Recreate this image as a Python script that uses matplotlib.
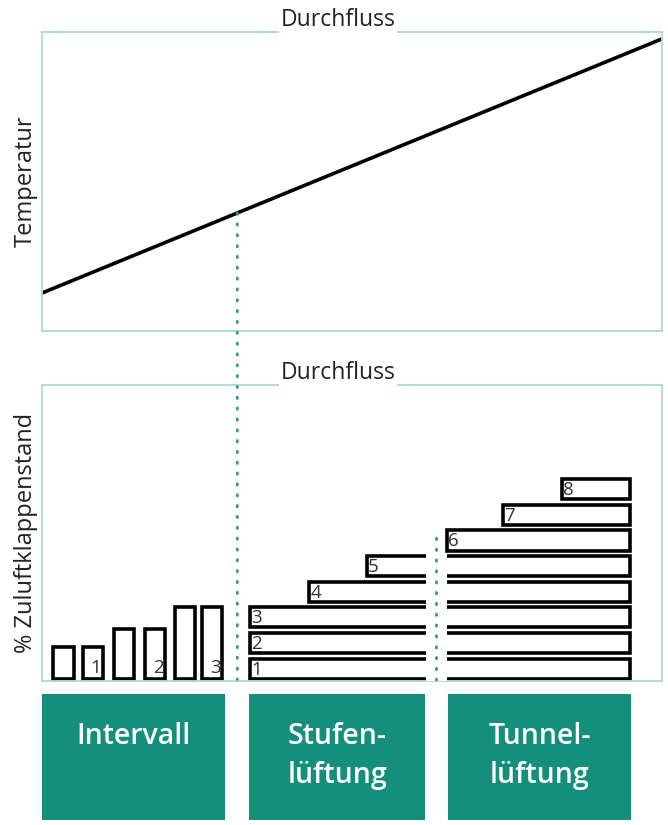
import numpy as np
import matplotlib
matplotlib.use("Agg")
import matplotlib.pyplot as plt
from matplotlib.patches import Rectangle, ConnectionPatch

plt.rcParams['font.family'] = ['Open Sans', 'DejaVu Sans']

# Daten
# Temperaturkennlinie (oben)
durchfluss_linie = [0, 100]
temperatur_linie = [12.7, 97.7]

# Intervallbetrieb: Balken (links, Breite, Höhe)
intervall_links = [1.8, 6.6, 11.6, 16.6, 21.5, 25.8]
intervall_breite = [3.3, 3.3, 3.3, 3.3, 3.2, 3.3]
intervall_hoehe = [10.8, 10.8, 16.9, 16.9, 24.3, 24.3]
intervall_labels = ['', '1', '', '2', '', '3']

# Stufen- und Tunnellüftung: Stufe, Start, Ende
stufen = ['1', '2', '3', '4', '5', '6', '7', '8']
stufen_start = [33.5, 33.5, 33.5, 43.1, 52.4, 65.3, 74.4, 83.9]
stufen_ende = [94.8, 94.8, 94.8, 94.8, 94.8, 94.8, 94.8, 94.8]
stufen_abstand = 8.7
stufen_hoehe = 6.8

# Grenzen zwischen den Betriebsarten
grenze_intervall = 31.5
grenze_tunnel = 63.6
luecke = (61.9, 65.3)

# Betriebsarten (unten)
modi = ['Intervall', 'Stufen-\nlüftung', 'Tunnel-\nlüftung']
modi_links = [0.0, 33.4, 65.5]
modi_breite = [29.5, 28.4, 29.5]

rahmen = '#a9dccf'
gruen = '#148f7b'
punkte = '#2f9c8a'

W, H = 668, 825
fig = plt.figure(figsize=(W / 100, H / 100), dpi=100)

def box(l, t, r, b):
    return [l / W, 1 - b / H, (r - l) / W, (b - t) / H]

ax1 = fig.add_axes(box(42, 32, 662, 331))
ax2 = fig.add_axes(box(42, 385, 662, 681))
ax3 = fig.add_axes(box(42, 694, 662, 820))

for ax in (ax1, ax2):
    ax.set_xlim(0, 100)
    ax.set_ylim(0, 100)
    ax.set_xticks([])
    ax.set_yticks([])
    for s in ax.spines.values():
        s.set_color(rahmen)
        s.set_linewidth(1.3)
    ax.text(47.7, 100, 'Durchfluss', ha='center', va='bottom', fontsize=16.5,
            color='#222222', bbox=dict(facecolor='white', edgecolor='none', pad=1))

# oben: Temperatur über Durchfluss
ax1.plot(durchfluss_linie, temperatur_linie, color='black', lw=2.6, solid_capstyle='round')
ax1.set_ylabel('Temperatur', fontsize=17, color='#222222', labelpad=3)

# unten: Klappenstand
ax2.set_ylim(-0.5, 100)
ax2.set_ylabel('% Zuluftklappenstand', fontsize=17, color='#222222', labelpad=3)

for x, w, h, lab in zip(intervall_links, intervall_breite, intervall_hoehe, intervall_labels):
    ax2.add_patch(Rectangle((x, 0.3), w, h, facecolor='white', edgecolor='black', lw=2.6))
    if lab:
        ax2.text(x + w - 0.3, 0.8, lab, ha='right', va='bottom', fontsize=13.5, color='#333333')

for i, (lab, x0, x1) in enumerate(zip(stufen, stufen_start, stufen_ende)):
    y0 = 0.3 + i * stufen_abstand
    ax2.add_patch(Rectangle((x0, y0), x1 - x0, stufen_hoehe, facecolor='white',
                            edgecolor='black', lw=2.6))
    ax2.text(x0 + 0.2, y0 + stufen_hoehe / 2 - 0.3, lab, ha='left', va='center',
             fontsize=13.5, color='#333333')

# Lücke bei der Grenze Stufen-/Tunnellüftung
ax2.add_patch(Rectangle((luecke[0], -1), luecke[1] - luecke[0], 5 * stufen_abstand + 0.5,
                        facecolor='white', edgecolor='none', zorder=3))
ax2.plot([grenze_tunnel, grenze_tunnel], [0, 51], color=punkte, lw=2,
         linestyle=(0, (0.5, 3.4)), dash_capstyle='round', zorder=4)

# gepunktete Linie vom Schnittpunkt bis zum unteren Diagramm
t_schnitt = np.interp(grenze_intervall, durchfluss_linie, temperatur_linie)
con = ConnectionPatch(xyA=(grenze_intervall, t_schnitt), coordsA=ax1.transData,
                      xyB=(grenze_intervall, 0), coordsB=ax2.transData,
                      color=punkte, lw=2, linestyle=(0, (0.5, 3.4)),
                      capstyle='round', zorder=5)
fig.add_artist(con)

# Betriebsarten
ax3.set_xlim(0, 100)
ax3.set_ylim(0, 1)
ax3.axis('off')
for x, w, name in zip(modi_links, modi_breite, modi):
    ax3.add_patch(Rectangle((x, 0), w, 1, facecolor=gruen, edgecolor='none'))
    ax3.text(x + w / 2, 0.78, name, ha='center', va='top', fontsize=20.5,
             color='white', fontweight='semibold', linespacing=1.45)

fig.savefig('out.png', dpi=100)
